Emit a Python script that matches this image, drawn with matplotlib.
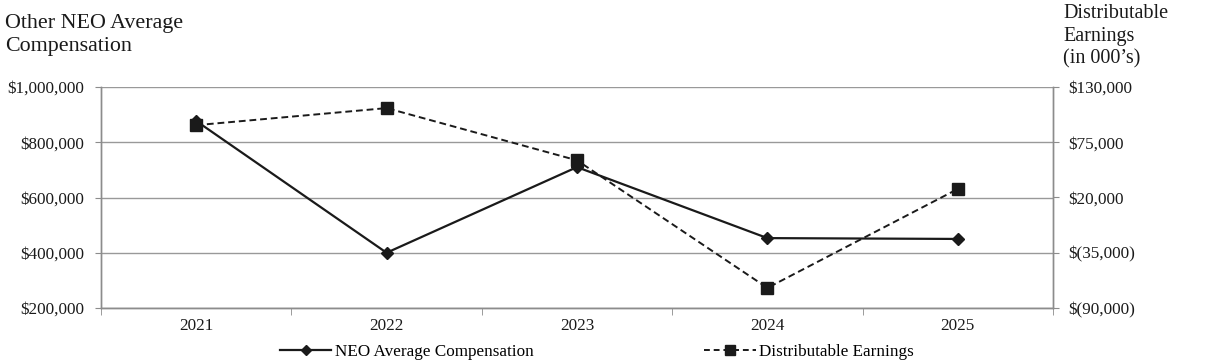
import matplotlib
matplotlib.use("Agg")
import matplotlib.pyplot as plt
from matplotlib.lines import Line2D
from matplotlib.ticker import FuncFormatter, FixedLocator

plt.rcParams['font.family'] = ['Liberation Serif', 'DejaVu Serif']

years = ["2021", "2022", "2023", "2024", "2025"]
neo_comp = [877000, 400000, 710000, 453000, 450000]
dist_earn = [92000, 109000, 57000, -70000, 28500]
left_ticks = [200000, 400000, 600000, 800000, 1000000]
right_ticks = [-90000, -35000, 20000, 75000, 130000]

W, H = 1226, 364
fig = plt.figure(figsize=(W / 100, H / 100), dpi=100)
ax = fig.add_axes([101 / W, 1 - 308 / H, (1053 - 101) / W, (308 - 87) / H])
ax2 = ax.twinx()

ink = "#1a1a1a"
gray = "#8c8c8c"
x = list(range(len(years)))

ax.plot(x, neo_comp, color=ink, lw=1.6, marker="D", ms=6.5, zorder=3)
ax2.plot(x, dist_earn, color=ink, lw=1.4, ls=(0, (3.5, 2)), marker="s", ms=9, zorder=3)

ax.set_xlim(-0.5, len(years) - 0.5)
ax.set_ylim(200000, 1000000)
ax2.set_ylim(-90000, 130000)
ax.set_yticks(left_ticks)
ax2.set_yticks(right_ticks)

def fmt_left(v, p):
    return "${:,.0f}".format(v)

def fmt_right(v, p):
    if v < 0:
        return "$({:,.0f})".format(-v)
    return "${:,.0f}".format(v)

ax.yaxis.set_major_formatter(FuncFormatter(fmt_left))
ax2.yaxis.set_major_formatter(FuncFormatter(fmt_right))

fs = 12.3
ax.set_xticks(x)
ax.set_xticklabels(years)
ax.xaxis.set_minor_locator(FixedLocator([i + 0.5 for i in range(-1, len(years))]))
ax.tick_params(axis="x", which="major", length=0, pad=7, labelsize=fs, colors=ink)
ax.tick_params(axis="x", which="minor", length=5, color=gray, direction="out")
ax.tick_params(axis="y", length=4, color=gray, labelsize=fs, labelcolor=ink, pad=8)
ax2.tick_params(axis="y", length=4, color=gray, labelsize=fs, labelcolor=ink, pad=7)

ax.grid(axis="y", color="#999999", lw=1.0)
ax.set_axisbelow(True)
for a in (ax, ax2):
    a.spines["top"].set_visible(False)
    for s in ("left", "right", "bottom"):
        a.spines[s].set_color(gray)
        a.spines[s].set_linewidth(1.0)

fig.text(5 / W, 1 - 14 / H, "Other NEO Average\nCompensation", ha="left", va="top",
         fontsize=15.8, color=ink, linespacing=1.25)
fig.text(1063 / W, 1 - 4 / H, "Distributable\nEarnings\n(in 000\u2019s)", ha="left", va="top",
         fontsize=14.5, color=ink, linespacing=1.25)

handles = [
    Line2D([], [], color=ink, lw=1.6, marker="D", ms=5),
    Line2D([], [], color=ink, lw=1.4, ls=(0, (3, 2)), marker="s", ms=7),
]
fig.legend(handles, ["NEO Average Compensation", "Distributable Earnings"],
           loc="center", bbox_to_anchor=(597 / W, 1 - 352 / H), ncol=2,
           frameon=False, fontsize=fs, handlelength=3.0, columnspacing=10,
           handletextpad=0.2, borderaxespad=0)

fig.savefig("out.png", dpi=100)
